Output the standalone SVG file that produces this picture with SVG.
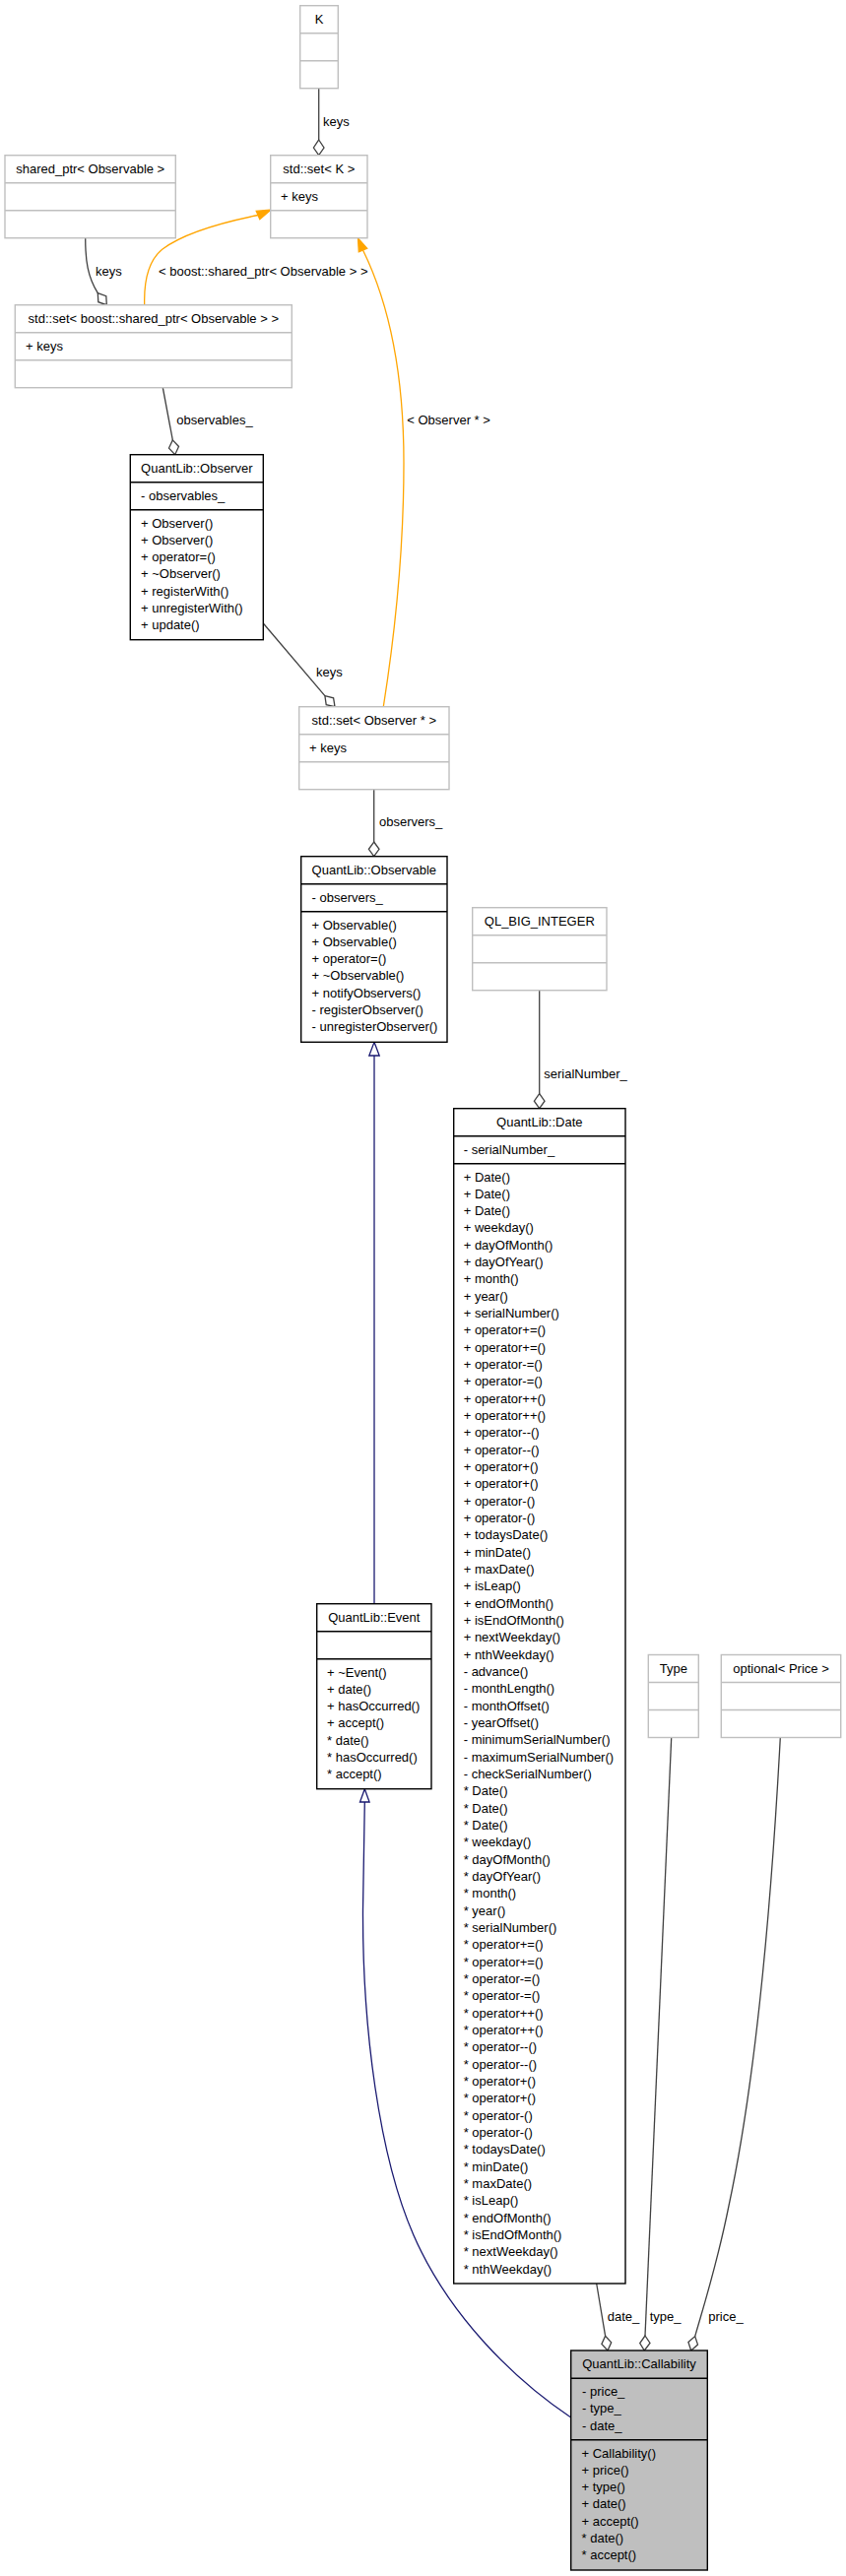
<svg xmlns="http://www.w3.org/2000/svg" width="859" height="2616" viewBox="0 0 859 2616">
<style>
text{font-family:"Liberation Sans",Arial,sans-serif;font-size:13px;fill:#000}
.t{text-anchor:middle}
.bk{fill:#fff;stroke:#000;stroke-width:1.4}
.gy{fill:#fff;stroke:#bfbfbf;stroke-width:1.4}
.cb{fill:#bfbfbf;stroke:#000;stroke-width:1.4}
.dk{stroke:#000;stroke-width:1.4}
.lg{stroke:#bfbfbf;stroke-width:1.4}
.use{fill:none;stroke:#404040;stroke-width:1.3}
.dia{fill:#fff;stroke:#404040;stroke-width:1.3}
.inh{fill:none;stroke:#191970;stroke-width:1.3}
.tri{fill:#fff;stroke:#191970;stroke-width:1.3}
.tpl{fill:none;stroke:#ffa500;stroke-width:1.3}
.ah{fill:#ffa500;stroke:#ffa500;stroke-width:1.3}
</style>
<rect width="859" height="2616" fill="#fff"/>
<g id="connectors">
<path class="use" d="M323.7,89.7 L323.7,142"/>
<polygon class="dia" points="323.7,142 329,150 323.7,157.7 318.4,150"/>
<text x="328" y="127.5">keys</text>
<path class="use" d="M86.7,241.7 C86.7,265 89,281 99.3,297.7"/>
<polygon class="dia" points="99.3,297.7 107.8,300.7 108.3,309.7 99.8,306.7"/>
<text x="97" y="279.5">keys</text>
<path class="tpl" d="M146.7,309.7 C146,285 150,265 165,253 C185,238 225,226 262,218.5"/>
<polygon class="ah" points="275,213 263.8,222.6 260.2,214.4"/>
<text x="161" y="279.5">&lt; boost::shared_ptr&lt; Observable &gt; &gt;</text>
<path class="use" d="M165.3,393.7 L175.3,446.9"/>
<polygon class="dia" points="175.3,446.9 181.5,453.5 177.7,461.7 171.5,455.1"/>
<text x="179.3" y="431">observables_</text>
<path class="tpl" d="M389.3,717.7 C400,650 410,560 410,470 C410,380 396,310 368.5,254"/>
<polygon class="ah" points="363.5,242 372.7,252.3 364.3,255.7"/>
<text x="413.3" y="431">&lt; Observer * &gt;</text>
<path class="use" d="M267.3,633 L329.9,706.6"/>
<polygon class="dia" points="329.9,706.6 338.6,708.8 340,717.7 331.2,715.6"/>
<text x="321" y="687">keys</text>
<path class="use" d="M379.7,801.7 L379.7,855"/>
<polygon class="dia" points="379.7,855 385,862.3 379.7,869.7 374.4,862.3"/>
<text x="385" y="838.5">observers_</text>
<path class="inh" d="M380,1628.7 L380,1072"/>
<polygon class="tri" points="380,1058.3 385.2,1072 374.8,1072"/>
<path class="use" d="M547.7,1005.7 L547.7,1110.7"/>
<polygon class="dia" points="547.7,1110.7 553,1118.2 547.7,1125.7 542.4,1118.2"/>
<text x="552.3" y="1095">serialNumber_</text>
<path class="inh" d="M579.7,2455 C520,2415 455,2350 420,2270 C385,2190 368,2060 368.5,1940 L370.3,1830"/>
<polygon class="tri" points="370.3,1816.7 375.1,1830 365.5,1830"/>
<path class="use" d="M605.7,2319 L614.6,2372.2"/>
<polygon class="dia" points="614.6,2372.2 620.7,2378.8 617,2387 610.9,2380.4"/>
<text x="616.7" y="2357">date_</text>
<path class="use" d="M681.7,1764.5 L655,2372"/>
<polygon class="dia" points="655,2372 660,2379.5 654.3,2387 649.7,2379.5"/>
<text x="659.7" y="2357">type_</text>
<path class="use" d="M792.3,1764.5 C785,1900 770,2100 740,2240 C728,2300 715,2340 705.7,2372.6"/>
<polygon class="dia" points="705.7,2372.6 708.5,2381.1 701.7,2387 698.9,2378.5"/>
<text x="719.3" y="2357">price_</text>
</g>
<g id="K">
<rect class="gy" x="304.7" y="5.7" width="38.6" height="84"/>
<line class="lg" x1="304.7" y1="33.7" x2="343.3" y2="33.7"/>
<line class="lg" x1="304.7" y1="61.7" x2="343.3" y2="61.7"/>
<text class="t" x="324" y="23.7">K</text>
</g>
<g id="set_K">
<rect class="gy" x="274.7" y="157.7" width="98.3" height="84"/>
<line class="lg" x1="274.7" y1="185.7" x2="373" y2="185.7"/>
<line class="lg" x1="274.7" y1="213.7" x2="373" y2="213.7"/>
<text class="t" x="323.8" y="175.7">std::set&lt; K &gt;</text>
<text x="285" y="203.5">+ keys</text>
</g>
<g id="shared_ptr_Observable">
<rect class="gy" x="5" y="157.7" width="173.3" height="84"/>
<line class="lg" x1="5" y1="185.7" x2="178.3" y2="185.7"/>
<line class="lg" x1="5" y1="213.7" x2="178.3" y2="213.7"/>
<text class="t" x="91.7" y="175.7">shared_ptr&lt; Observable &gt;</text>
</g>
<g id="set_shared_ptr_Observable">
<rect class="gy" x="15.3" y="309.7" width="281" height="84"/>
<line class="lg" x1="15.3" y1="337.7" x2="296.3" y2="337.7"/>
<line class="lg" x1="15.3" y1="365.7" x2="296.3" y2="365.7"/>
<text class="t" x="155.8" y="327.7">std::set&lt; boost::shared_ptr&lt; Observable &gt; &gt;</text>
<text x="26" y="355.5">+ keys</text>
</g>
<g id="Observer">
<rect class="bk" x="132.3" y="461.7" width="135" height="188"/>
<line class="dk" x1="132.3" y1="489.7" x2="267.3" y2="489.7"/>
<line class="dk" x1="132.3" y1="517.7" x2="267.3" y2="517.7"/>
<text class="t" x="199.8" y="479.7">QuantLib::Observer</text>
<text x="143" y="507.5">- observables_</text>
<text x="143" y="535.5">+ Observer()<tspan x="143" dy="17.33">+ Observer()</tspan><tspan x="143" dy="17.33">+ operator=()</tspan><tspan x="143" dy="17.33">+ ~Observer()</tspan><tspan x="143" dy="17.33">+ registerWith()</tspan><tspan x="143" dy="17.33">+ unregisterWith()</tspan><tspan x="143" dy="17.33">+ update()</tspan></text>
</g>
<g id="set_Observer">
<rect class="gy" x="303.7" y="717.7" width="152.3" height="84"/>
<line class="lg" x1="303.7" y1="745.7" x2="456" y2="745.7"/>
<line class="lg" x1="303.7" y1="773.7" x2="456" y2="773.7"/>
<text class="t" x="379.8" y="735.7">std::set&lt; Observer * &gt;</text>
<text x="314" y="763.5">+ keys</text>
</g>
<g id="Observable">
<rect class="bk" x="305.7" y="869.7" width="148.3" height="188.6"/>
<line class="dk" x1="305.7" y1="897.7" x2="454" y2="897.7"/>
<line class="dk" x1="305.7" y1="925.7" x2="454" y2="925.7"/>
<text class="t" x="379.8" y="887.7">QuantLib::Observable</text>
<text x="316.5" y="915.5">- observers_</text>
<text x="316.5" y="943.5">+ Observable()<tspan x="316.5" dy="17.33">+ Observable()</tspan><tspan x="316.5" dy="17.33">+ operator=()</tspan><tspan x="316.5" dy="17.33">+ ~Observable()</tspan><tspan x="316.5" dy="17.33">+ notifyObservers()</tspan><tspan x="316.5" dy="17.33">- registerObserver()</tspan><tspan x="316.5" dy="17.33">- unregisterObserver()</tspan></text>
</g>
<g id="QL_BIG_INTEGER">
<rect class="gy" x="479.7" y="921.7" width="136.3" height="84"/>
<line class="lg" x1="479.7" y1="949.7" x2="616" y2="949.7"/>
<line class="lg" x1="479.7" y1="977.7" x2="616" y2="977.7"/>
<text class="t" x="547.8" y="939.7">QL_BIG_INTEGER</text>
</g>
<g id="Date">
<rect class="bk" x="460.7" y="1125.7" width="174.3" height="1193.3"/>
<line class="dk" x1="460.7" y1="1153.7" x2="635" y2="1153.7"/>
<line class="dk" x1="460.7" y1="1181.7" x2="635" y2="1181.7"/>
<text class="t" x="547.8" y="1143.7">QuantLib::Date</text>
<text x="470.7" y="1171.5">- serialNumber_</text>
<text x="470.7" y="1199.5">+ Date()<tspan x="470.7" dy="17.333">+ Date()</tspan><tspan x="470.7" dy="17.333">+ Date()</tspan><tspan x="470.7" dy="17.333">+ weekday()</tspan><tspan x="470.7" dy="17.333">+ dayOfMonth()</tspan><tspan x="470.7" dy="17.333">+ dayOfYear()</tspan><tspan x="470.7" dy="17.333">+ month()</tspan><tspan x="470.7" dy="17.333">+ year()</tspan><tspan x="470.7" dy="17.333">+ serialNumber()</tspan><tspan x="470.7" dy="17.333">+ operator+=()</tspan><tspan x="470.7" dy="17.333">+ operator+=()</tspan><tspan x="470.7" dy="17.333">+ operator-=()</tspan><tspan x="470.7" dy="17.333">+ operator-=()</tspan><tspan x="470.7" dy="17.333">+ operator++()</tspan><tspan x="470.7" dy="17.333">+ operator++()</tspan><tspan x="470.7" dy="17.333">+ operator--()</tspan><tspan x="470.7" dy="17.333">+ operator--()</tspan><tspan x="470.7" dy="17.333">+ operator+()</tspan><tspan x="470.7" dy="17.333">+ operator+()</tspan><tspan x="470.7" dy="17.333">+ operator-()</tspan><tspan x="470.7" dy="17.333">+ operator-()</tspan><tspan x="470.7" dy="17.333">+ todaysDate()</tspan><tspan x="470.7" dy="17.333">+ minDate()</tspan><tspan x="470.7" dy="17.333">+ maxDate()</tspan><tspan x="470.7" dy="17.333">+ isLeap()</tspan><tspan x="470.7" dy="17.333">+ endOfMonth()</tspan><tspan x="470.7" dy="17.333">+ isEndOfMonth()</tspan><tspan x="470.7" dy="17.333">+ nextWeekday()</tspan><tspan x="470.7" dy="17.333">+ nthWeekday()</tspan><tspan x="470.7" dy="17.333">- advance()</tspan><tspan x="470.7" dy="17.333">- monthLength()</tspan><tspan x="470.7" dy="17.333">- monthOffset()</tspan><tspan x="470.7" dy="17.333">- yearOffset()</tspan><tspan x="470.7" dy="17.333">- minimumSerialNumber()</tspan><tspan x="470.7" dy="17.333">- maximumSerialNumber()</tspan><tspan x="470.7" dy="17.333">- checkSerialNumber()</tspan><tspan x="470.7" dy="17.333">* Date()</tspan><tspan x="470.7" dy="17.333">* Date()</tspan><tspan x="470.7" dy="17.333">* Date()</tspan><tspan x="470.7" dy="17.333">* weekday()</tspan><tspan x="470.7" dy="17.333">* dayOfMonth()</tspan><tspan x="470.7" dy="17.333">* dayOfYear()</tspan><tspan x="470.7" dy="17.333">* month()</tspan><tspan x="470.7" dy="17.333">* year()</tspan><tspan x="470.7" dy="17.333">* serialNumber()</tspan><tspan x="470.7" dy="17.333">* operator+=()</tspan><tspan x="470.7" dy="17.333">* operator+=()</tspan><tspan x="470.7" dy="17.333">* operator-=()</tspan><tspan x="470.7" dy="17.333">* operator-=()</tspan><tspan x="470.7" dy="17.333">* operator++()</tspan><tspan x="470.7" dy="17.333">* operator++()</tspan><tspan x="470.7" dy="17.333">* operator--()</tspan><tspan x="470.7" dy="17.333">* operator--()</tspan><tspan x="470.7" dy="17.333">* operator+()</tspan><tspan x="470.7" dy="17.333">* operator+()</tspan><tspan x="470.7" dy="17.333">* operator-()</tspan><tspan x="470.7" dy="17.333">* operator-()</tspan><tspan x="470.7" dy="17.333">* todaysDate()</tspan><tspan x="470.7" dy="17.333">* minDate()</tspan><tspan x="470.7" dy="17.333">* maxDate()</tspan><tspan x="470.7" dy="17.333">* isLeap()</tspan><tspan x="470.7" dy="17.333">* endOfMonth()</tspan><tspan x="470.7" dy="17.333">* isEndOfMonth()</tspan><tspan x="470.7" dy="17.333">* nextWeekday()</tspan><tspan x="470.7" dy="17.333">* nthWeekday()</tspan></text>
</g>
<g id="Event">
<rect class="bk" x="321.7" y="1628.7" width="116.3" height="188"/>
<line class="dk" x1="321.7" y1="1656.7" x2="438" y2="1656.7"/>
<line class="dk" x1="321.7" y1="1684.7" x2="438" y2="1684.7"/>
<text class="t" x="379.8" y="1646.7">QuantLib::Event</text>
<text x="332" y="1702.5">+ ~Event()<tspan x="332" dy="17.33">+ date()</tspan><tspan x="332" dy="17.33">+ hasOccurred()</tspan><tspan x="332" dy="17.33">+ accept()</tspan><tspan x="332" dy="17.33">* date()</tspan><tspan x="332" dy="17.33">* hasOccurred()</tspan><tspan x="332" dy="17.33">* accept()</tspan></text>
</g>
<g id="Type">
<rect class="gy" x="658.3" y="1680.5" width="51" height="84"/>
<line class="lg" x1="658.3" y1="1708.5" x2="709.3" y2="1708.5"/>
<line class="lg" x1="658.3" y1="1736.5" x2="709.3" y2="1736.5"/>
<text class="t" x="683.8" y="1698.5">Type</text>
</g>
<g id="optional_Price">
<rect class="gy" x="732.3" y="1680.5" width="121.4" height="84"/>
<line class="lg" x1="732.3" y1="1708.5" x2="853.7" y2="1708.5"/>
<line class="lg" x1="732.3" y1="1736.5" x2="853.7" y2="1736.5"/>
<text class="t" x="793" y="1698.5">optional&lt; Price &gt;</text>
</g>
<g id="Callability">
<rect class="cb" x="579.7" y="2387" width="138.6" height="223"/>
<line class="dk" x1="579.7" y1="2415.3" x2="718.3" y2="2415.3"/>
<line class="dk" x1="579.7" y1="2477.7" x2="718.3" y2="2477.7"/>
<text class="t" x="649" y="2405">QuantLib::Callability</text>
<text x="591" y="2433.1">- price_<tspan x="591" dy="17.33">- type_</tspan><tspan x="591" dy="17.33">- date_</tspan></text>
<text x="590.5" y="2495.5">+ Callability()<tspan x="590.5" dy="17.33">+ price()</tspan><tspan x="590.5" dy="17.33">+ type()</tspan><tspan x="590.5" dy="17.33">+ date()</tspan><tspan x="590.5" dy="17.33">+ accept()</tspan><tspan x="590.5" dy="17.33">* date()</tspan><tspan x="590.5" dy="17.33">* accept()</tspan></text>
</g>
</svg>
